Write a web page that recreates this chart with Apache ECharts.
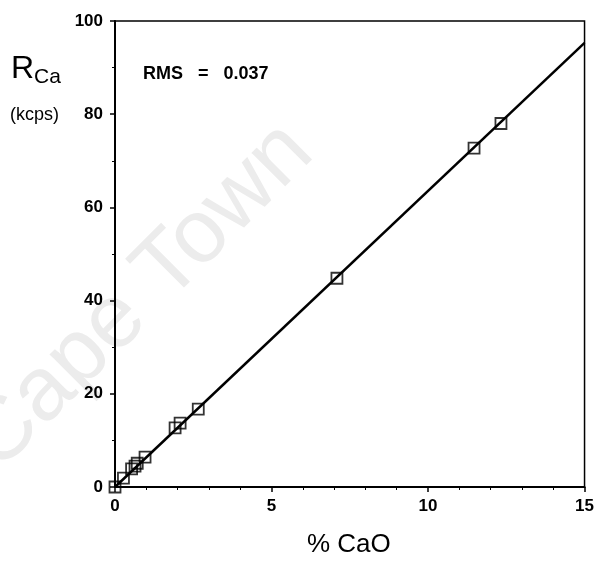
<!DOCTYPE html>
<html>
<head>
<meta charset="utf-8">
<script src="https://cdn.jsdelivr.net/npm/echarts@6/dist/echarts.min.js"></script>
<style>
  html, body { margin: 0; padding: 0; background: #fff; }
  #myChart { width: 597px; height: 563px; }
</style>
</head>
<body>
<div id="myChart"></div>
<script>
// measured points: % CaO vs R_Ca (kcps)
var cao = [0, 0.27, 0.53, 0.64, 0.71, 0.96, 1.92, 2.08, 2.66, 7.09, 11.47, 12.33];
var rca = [0, 1.9, 3.9, 4.5, 5.1, 6.4, 12.7, 13.7, 16.7, 44.8, 72.7, 78.0];
// calibration line ends
var fitX = [0, 15];
var fitY = [0, 95.3];

var pts = cao.map(function (v, i) { return [v, rca[i]]; });
var fitLine = fitX.map(function (v, i) { return [v, fitY[i]]; });

var myChart = echarts.init(document.getElementById('myChart'));
var font = 'Liberation Sans, Arial, sans-serif';
var option = {
  animation: false,
  grid: {
    left: 115, right: 11, top: 21, bottom: 76,
    show: true, borderColor: '#000', borderWidth: 1.5
  },
  xAxis: {
    type: 'value', min: 0, max: 15, interval: 5,
    axisLine: { lineStyle: { color: '#000', width: 2 } },
    axisTick: { length: 5, lineStyle: { color: '#000', width: 1.5 } },
    minorTick: { show: true, splitNumber: 5, length: 3, lineStyle: { color: '#000' } },
    splitLine: { show: false },
    axisLabel: { color: '#000', fontFamily: font, fontWeight: 'bold', fontSize: 17, margin: 11 }
  },
  yAxis: {
    type: 'value', min: 0, max: 100, interval: 20,
    axisLine: { lineStyle: { color: '#000', width: 2 } },
    axisTick: { length: 5, lineStyle: { color: '#000', width: 1.5 } },
    minorTick: { show: true, splitNumber: 2, length: 3, lineStyle: { color: '#000' } },
    splitLine: { show: false },
    axisLabel: { color: '#000', fontFamily: font, fontWeight: 'bold', fontSize: 17, margin: 12 }
  },
  graphic: [
    {
      type: 'text', left: 11, top: 53,
      style: {
        text: '{r|R}{s|Ca}',
        rich: {
          r: { fontFamily: font, fontSize: 32, fill: '#000' },
          s: { fontFamily: font, fontSize: 21, fill: '#000', padding: [16, 0, 0, 0] }
        }
      }
    },
    {
      type: 'text', left: 10, top: 106,
      style: { text: '(kcps)', fontFamily: font, fontSize: 18, fill: '#000' }
    },
    {
      type: 'text', left: 143, top: 65,
      style: { text: 'RMS   =   0.037', fontFamily: font, fontSize: 18, fontWeight: 'bold', fill: '#000' }
    },
    {
      type: 'text', left: 307, top: 532,
      style: { text: '% CaO', fontFamily: font, fontSize: 26, fill: '#000' }
    },
    {
      type: 'text', x: 12, y: 488, rotation: Math.PI * 0.25, z: -1,
      style: { text: 'Cape Town', fontFamily: font, fontSize: 90, fill: '#ececec', verticalAlign: 'bottom' }
    }
  ],
  series: [
    {
      type: 'line', data: fitLine, symbol: 'none',
      lineStyle: { color: '#000', width: 2.5 }
    },
    {
      type: 'scatter', data: pts, symbol: 'rect', symbolSize: 11,
      itemStyle: { color: 'rgba(0,0,0,0)', borderColor: '#000', borderWidth: 1.8 }
    }
  ]
};
myChart.setOption(option);
</script>
</body>
</html>
